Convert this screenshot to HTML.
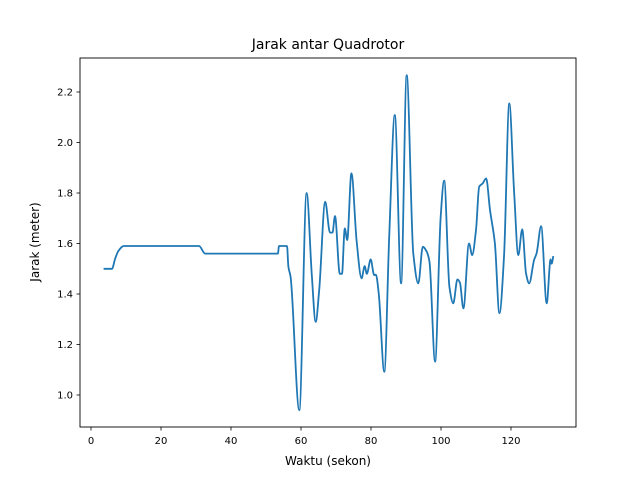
<!DOCTYPE html>
<html><head><meta charset="utf-8"><style>
body{margin:0;background:#fff}
svg text{font-family:"DejaVu Sans","Liberation Sans",sans-serif;fill:#000}
</style></head><body>
<svg id="chart" width="640" height="480" xmlns="http://www.w3.org/2000/svg">
<rect width="640" height="480" fill="#fff"/>
<text x="328" y="49" font-size="14" text-anchor="middle">Jarak antar Quadrotor</text>
<text x="328" y="465" font-size="12" text-anchor="middle">Waktu (sekon)</text>
<text transform="translate(39,242) rotate(-90)" font-size="12" text-anchor="middle">Jarak (meter)</text>
<g id="ticks"></g>
<path id="line" fill="none" stroke="#1f77b4" stroke-width="1.8" stroke-linejoin="round"/>
<rect x="80" y="58" width="496" height="369" fill="none" stroke="#000" stroke-width="0.9"/>
</svg>
<script>
const times=[3.6,6,6.9,7.8,9.4,30.9,32.6,53.4,53.7,56,56.4,57,59.5,61.6,63.1,64.2,65.2,66.9,68.3,69.0,69.7,71.1,71.7,72.5,73.2,74.4,75.9,77.3,78.2,78.8,79.9,80.9,81.4,82.2,83.8,85.2,86.8,88.6,90.2,92.1,93.5,94.8,95.9,96.7,98.3,99.9,100.9,102.4,103.5,104.7,105.4,106.4,108,108.9,110,110.9,111.9,112.9,114,115.4,116.7,118,119.5,120.9,122.1,123.2,124.3,125.2,126.6,127.3,128.6,130.2,131.3,131.6,132.1];
const distances=[1.5,1.5,1.54,1.57,1.59,1.59,1.56,1.56,1.59,1.59,1.508,1.47,0.94,1.80,1.47,1.29,1.416,1.765,1.643,1.643,1.709,1.48,1.48,1.66,1.614,1.878,1.607,1.462,1.51,1.48,1.537,1.475,1.477,1.403,1.092,1.627,2.109,1.442,2.267,1.56,1.442,1.587,1.568,1.53,1.132,1.706,1.849,1.429,1.363,1.458,1.445,1.343,1.60,1.554,1.653,1.825,1.838,1.858,1.733,1.60,1.324,1.548,2.155,1.798,1.554,1.656,1.482,1.442,1.535,1.56,1.669,1.363,1.537,1.52,1.55];
const xTicks=[0,20,40,60,80,100,120];
const yTicks=[1.0,1.2,1.4,1.6,1.8,2.0,2.2];
const xs=v=>91+v*3.5;
const ys=v=>395-(v-1)*252.5;
const ns="http://www.w3.org/2000/svg";
const g=document.getElementById('ticks');
function mk(tag,attrs){const e=document.createElementNS(ns,tag);for(const k in attrs)e.setAttribute(k,attrs[k]);g.appendChild(e);return e;}
xTicks.forEach(t=>{
 const l=mk('line',{x1:xs(t),x2:xs(t),y1:427,y2:430.5,stroke:'#000','stroke-width':0.8});
 
 
 const tx=mk('text',{x:xs(t),y:444,'font-size':10,'text-anchor':'middle'});tx.textContent=t;
 
 
});
yTicks.forEach(t=>{
 const l=mk('line',{x1:76.5,x2:80,y1:ys(t),y2:ys(t),stroke:'#000','stroke-width':0.8});
 
 
 const tx=mk('text',{x:73,y:ys(t)+3.6,'font-size':10,'text-anchor':'end'});tx.textContent=t.toFixed(1);
 
 
});
// monotone cubic interpolation (no overshoot) for rounded peaks
const P=times.map((t,i)=>[xs(t),ys(distances[i])]);
const n=P.length,d=[],m=[];
for(let i=0;i<n-1;i++)d.push((P[i+1][1]-P[i][1])/(P[i+1][0]-P[i][0]));
for(let i=0;i<n;i++){
 if(i===0)m.push(d[0]);else if(i===n-1)m.push(d[n-2]);
 else if(d[i-1]*d[i]<=0)m.push(0);
 else{const h0=P[i][0]-P[i-1][0],h1=P[i+1][0]-P[i][0];const w1=2*h1+h0,w2=h1+2*h0;m.push((w1+w2)/(w1/d[i-1]+w2/d[i]));}
}
let path='M'+P[0][0].toFixed(1)+','+P[0][1].toFixed(1);
for(let i=0;i<n-1;i++){
 const h=(P[i+1][0]-P[i][0])/3;
 path+='C'+(P[i][0]+h).toFixed(1)+','+(P[i][1]+m[i]*h).toFixed(1)+' '+(P[i+1][0]-h).toFixed(1)+','+(P[i+1][1]-m[i+1]*h).toFixed(1)+' '+P[i+1][0].toFixed(1)+','+P[i+1][1].toFixed(1);
}
document.getElementById('line').setAttribute('d',path);
</script>
</body></html>
